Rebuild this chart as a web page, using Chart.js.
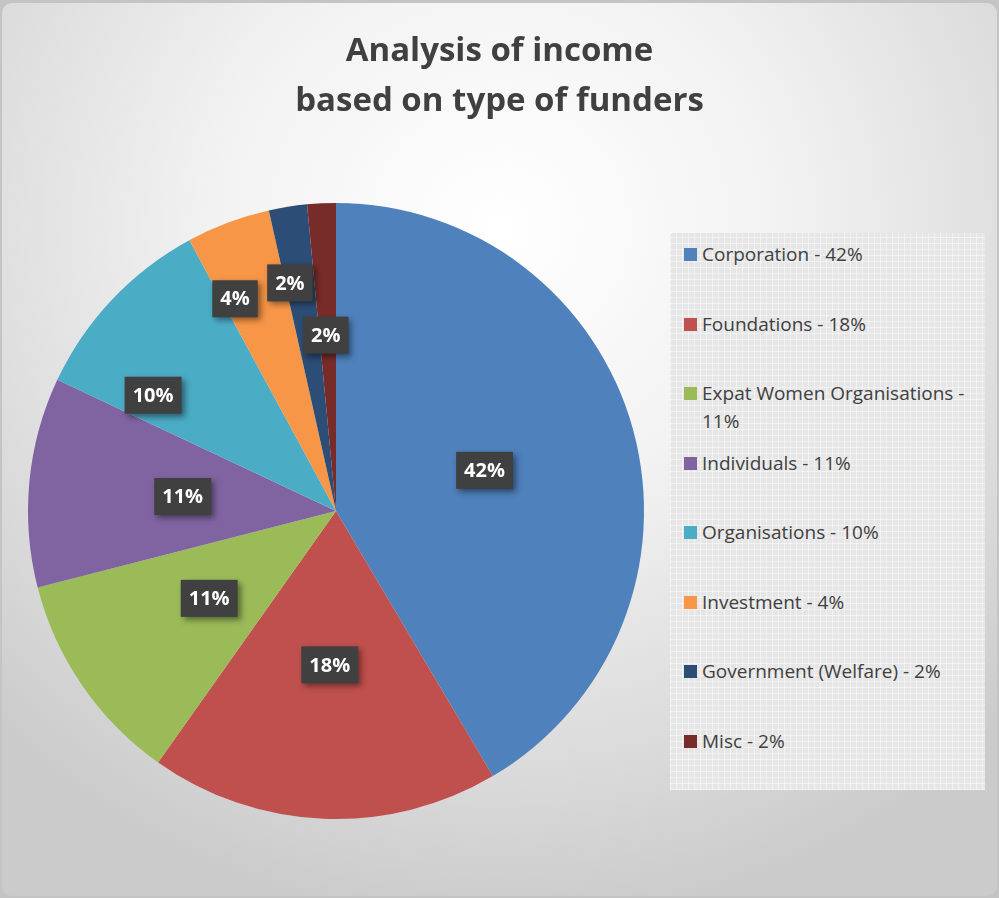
<!DOCTYPE html>
<html>
<head>
<meta charset="utf-8">
<script src="https://cdn.jsdelivr.net/npm/chart.js@4.4.0/dist/chart.umd.min.js"></script>
<style>
  html, body { margin: 0; padding: 0; background: #c4c4c4; }
  #frame {
    position: absolute; left: 2px; top: 3px; width: 995px; height: 893px;
    border-radius: 10px; overflow: hidden;
    background: radial-gradient(ellipse 72% 78% at 50% 25%, #ffffff 0%, #f2f2f2 40%, #d9d9d9 80%, #cbcbcb 100%);
  }
  #wrap { position: absolute; left: -2px; top: -3px; width: 999px; height: 898px; }
  #title {
    position: absolute; left: 0; top: 24px; width: 999px; text-align: center;
    font-family: "Open Sans", sans-serif; font-weight: bold; font-size: 33px;
    line-height: 50px; color: #404040;
  }
  #legend {
    position: absolute; left: 670px; top: 233px; width: 315px; height: 557px;
    box-sizing: border-box; padding: 7px 8px 0 14px;
    background-color: #e6e6e6;
    background-image:
      repeating-linear-gradient(0deg, rgba(255,255,255,0.45) 0 1px, transparent 1px 6px),
      repeating-linear-gradient(90deg, rgba(255,255,255,0.45) 0 1px, transparent 1px 6px);
    font-family: "Open Sans", sans-serif; font-size: 19px; color: #404040;
  }
  .item { height: 69.5px; display: flex; align-items: flex-start; line-height: 28px; }
  .sw { width: 13px; height: 13px; flex: none; margin: 8px 5px 0 0; }
</style>
</head>
<body>
<div id="frame">
  <div id="wrap"><canvas id="pie"></canvas></div>
</div>
<div id="title">Analysis of income<br>based on type of funders</div>
<div id="legend"></div>
<script>
// данные диаграммы
const categories = ['Corporation', 'Foundations', 'Expat Women Organisations', 'Individuals',
  'Organisations', 'Investment', 'Government (Welfare)', 'Misc'];
const shares = [41.5, 18.3, 11.2, 11.0, 10.1, 4.4, 2.0, 1.5];
const pctLabels = ['42%', '18%', '11%', '11%', '10%', '4%', '2%', '2%'];
const colors = ['#4F81BD', '#C0504D', '#9BBB59', '#8064A2', '#4BACC6', '#F79646', '#2C4D75', '#772C2A'];

// сдвиг подписей (px) от середины сектора, чтобы мелкие не налезали друг на друга
const labelShift = [[0, 0], [0, 0], [0, 0], [0, 0], [-71, -10], [-47, -68], [-22, -76], [-3, -22]];

// подписи в тёмных плашках
const boxLabels = {
  id: 'boxLabels',
  afterDatasetsDraw(chart) {
    const ctx = chart.ctx;
    const arcs = chart.getDatasetMeta(0).data;
    ctx.save();
    ctx.font = 'bold 20px "Open Sans", sans-serif';
    ctx.textAlign = 'center';
    ctx.textBaseline = 'middle';
    arcs.forEach((arc, i) => {
      const p = arc.tooltipPosition(true);
      const cx = p.x + labelShift[i][0];
      const cy = p.y + labelShift[i][1];
      const w = ctx.measureText(pctLabels[i]).width + 16;
      const h = 37;
      ctx.shadowColor = 'rgba(0,0,0,0.45)';
      ctx.shadowBlur = 6;
      ctx.shadowOffsetX = 3;
      ctx.shadowOffsetY = 3;
      ctx.fillStyle = '#404040';
      ctx.fillRect(cx - w / 2, cy - h / 2, w, h);
      ctx.shadowColor = 'transparent';
      ctx.fillStyle = '#ffffff';
      ctx.fillText(pctLabels[i], cx, cy + 1);
    });
    ctx.restore();
  }
};

new Chart(document.getElementById('pie'), {
  type: 'pie',
  data: {
    labels: categories,
    datasets: [{ data: shares, backgroundColor: colors, borderWidth: 0 }]
  },
  options: {
    responsive: true,
    maintainAspectRatio: false,
    animation: false,
    layout: { padding: { left: 28, right: 355, top: 203, bottom: 79 } },
    plugins: {
      legend: { display: false },
      tooltip: { enabled: false }
    }
  },
  plugins: [boxLabels]
});

// легенда справа
const legend = document.getElementById('legend');
categories.forEach((name, i) => {
  const row = document.createElement('div');
  row.className = 'item';
  row.innerHTML = '<span class="sw" style="background:' + colors[i] + '"></span><span>' + name + ' - ' + pctLabels[i] + '</span>';
  legend.appendChild(row);
});
</script>
</body>
</html>
